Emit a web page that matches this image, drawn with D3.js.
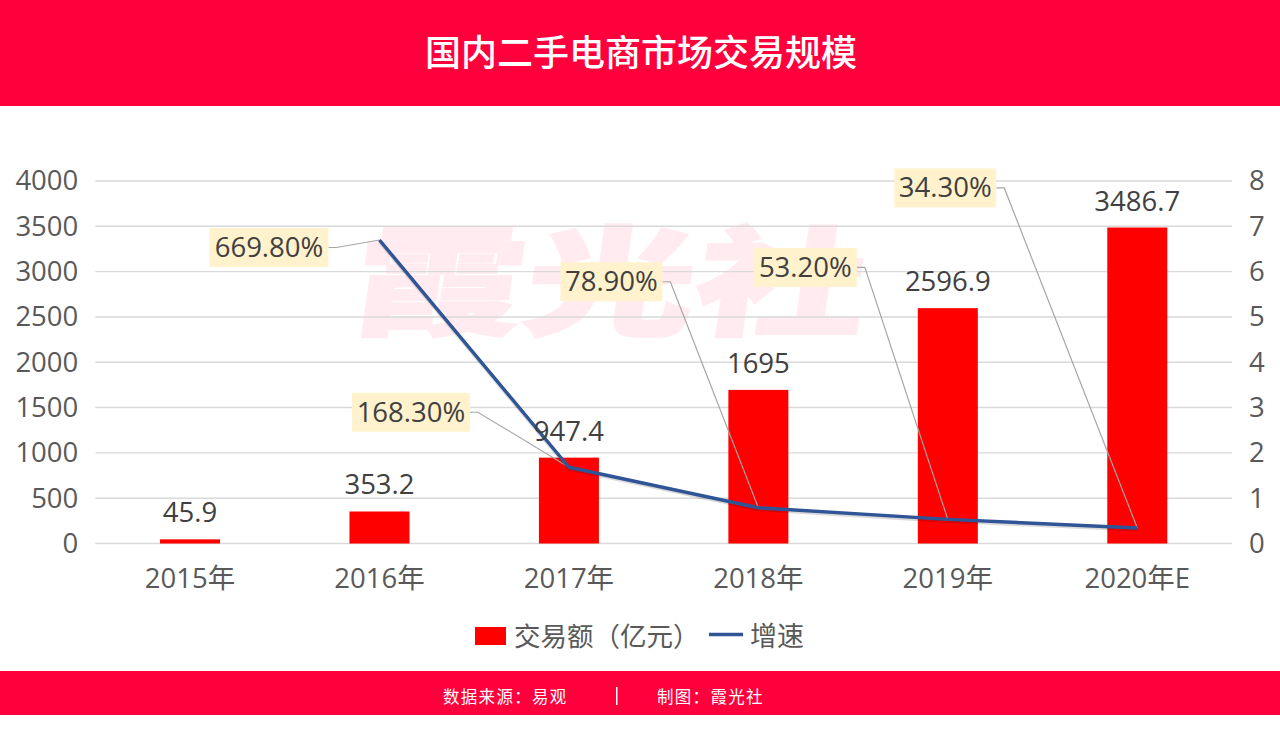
<!DOCTYPE html>
<html>
<head>
<meta charset="utf-8">
<script src="https://cdn.jsdelivr.net/npm/d3@7"></script>
<style>
  html, body { margin: 0; padding: 0; background: #fff; }
  svg { display: block; }
  text { font-family: "Open Sans", "Noto Sans CJK SC", sans-serif; }
  .cjk { font-family: "Noto Sans CJK SC", sans-serif; }
</style>
</head>
<body>
<svg id="chart" width="1280" height="735"></svg>
<script>
var years = ["2015年", "2016年", "2017年", "2018年", "2019年", "2020年E"];
var volume = [45.9, 353.2, 947.4, 1695, 2596.9, 3486.7];
var volumeLabels = ["45.9", "353.2", "947.4", "1695", "2596.9", "3486.7"];
var growth = [null, 6.698, 1.683, 0.789, 0.532, 0.343];
var growthLabels = [null, "669.80%", "168.30%", "78.90%", "53.20%", "34.30%"];
var leftTicks = [0, 500, 1000, 1500, 2000, 2500, 3000, 3500, 4000];
var rightTicks = [0, 1, 2, 3, 4, 5, 6, 7, 8];

// where each callout box sits, relative to its point on the line
var calloutDx = [null, -170, -217, -198, -194, -243];
var calloutDy = [null, 7.5, -55, -226, -252, -340];
var calloutW = [null, 119, 118, 102, 103, 102];

var red = "#ff003c";
var svg = d3.select("#chart");

var x = d3.scaleBand().domain(years).range([95.3, 1232]);
var yL = d3.scaleLinear().domain([0, 4000]).range([543.5, 181]);
var yR = d3.scaleLinear().domain([0, 8]).range([543.5, 181]);
var cx = function (d) { return x(d) + x.bandwidth() / 2; };

// header + footer
svg.append("rect").attr("width", 1280).attr("height", 106).attr("fill", red);
svg.append("rect").attr("y", 671).attr("width", 1280).attr("height", 44).attr("fill", red);
svg.append("text").attr("class", "cjk").attr("x", 641).attr("y", 66)
  .attr("text-anchor", "middle").attr("fill", "#fff")
  .attr("font-size", 36).attr("font-weight", 500)
  .text("国内二手电商市场交易规模");
svg.append("text").attr("class", "cjk").attr("x", 443).attr("y", 703)
  .attr("fill", "#fff").attr("font-size", 16.5).attr("letter-spacing", 1.3)
  .text("数据来源：易观");
svg.append("rect").attr("x", 616).attr("y", 687).attr("width", 1.5).attr("height", 18).attr("fill", "#fff");
svg.append("text").attr("class", "cjk").attr("x", 657).attr("y", 703)
  .attr("fill", "#fff").attr("font-size", 16.5).attr("letter-spacing", 1.3)
  .text("制图：霞光社");

// watermark
svg.append("text").attr("class", "cjk")
  .attr("transform", "translate(349,326) skewX(-8) scale(1.435,1)")
  .attr("fill", "#ffebf0").attr("stroke", "#ffebf0").attr("stroke-width", 2)
  .attr("font-size", 119).attr("font-weight", 900)
  .text("霞光社");

// gridlines
svg.append("g").selectAll("line").data(leftTicks).join("line")
  .attr("x1", 95.3).attr("x2", 1232)
  .attr("y1", function (d) { return yL(d); })
  .attr("y2", function (d) { return yL(d); })
  .attr("stroke", "#d9d9d9").attr("stroke-width", 1.4);

// axes
var axisLeft = svg.append("g").attr("transform", "translate(95.3,0)")
  .call(d3.axisLeft(yL).tickValues(leftTicks).tickFormat(d3.format("d")).tickSize(0).tickPadding(17));
var axisRight = svg.append("g").attr("transform", "translate(1232,0)")
  .call(d3.axisRight(yR).tickValues(rightTicks).tickFormat(d3.format("d")).tickSize(0).tickPadding(17));
var axisBottom = svg.append("g").attr("transform", "translate(0,543.5)")
  .call(d3.axisBottom(x).tickSize(0).tickPadding(25));
[axisLeft, axisRight, axisBottom].forEach(function (a) {
  a.select(".domain").remove();
  a.selectAll("text").attr("fill", "#595959").attr("font-size", 27.5)
    .style("font-family", '"Open Sans", "Noto Sans CJK SC", sans-serif');
});
axisBottom.selectAll("text").attr("font-size", 27.5);

// bars
svg.append("g").selectAll("rect").data(volume).join("rect")
  .attr("x", function (d, i) { return cx(years[i]) - 30; })
  .attr("width", 60)
  .attr("y", function (d) { return yL(d); })
  .attr("height", function (d) { return yL(0) - yL(d); })
  .attr("fill", "#ff0000");

// leaders
var points = growth.map(function (d, i) {
  return d === null ? null : { i: i, px: cx(years[i]), py: yR(d) };
}).filter(Boolean);

svg.append("g").selectAll("path").data(points).join("path")
  .attr("fill", "none").attr("stroke", "#a6a6a6").attr("stroke-width", 1.2)
  .attr("d", function (p) {
    var bx = p.px + calloutDx[p.i] + calloutW[p.i], by = p.py + calloutDy[p.i];
    return "M" + bx + "," + by + "L" + (bx + 8) + "," + by + "L" + p.px + "," + p.py;
  });

// growth line
var line = d3.line()
  .defined(function (d) { return d !== null; })
  .x(function (d, i) { return cx(years[i]); })
  .y(function (d) { return yR(d); });

svg.append("path").datum(growth).attr("d", line)
  .attr("transform", "translate(0,2)")
  .attr("fill", "none").attr("stroke", "#000").attr("stroke-opacity", 0.15).attr("stroke-width", 3);
svg.append("path").datum(growth).attr("d", line)
  .attr("fill", "none").attr("stroke", "#2f5597").attr("stroke-width", 3.4)
  .attr("stroke-linejoin", "round");

// bar labels
svg.append("g").selectAll("text").data(volumeLabels).join("text")
  .attr("x", function (d, i) { return cx(years[i]); })
  .attr("y", function (d, i) { return yL(volume[i]) - 17; })
  .attr("text-anchor", "middle").attr("fill", "#404040").attr("font-size", 27.5)
  .text(function (d) { return d; });

// callout boxes
var callouts = svg.append("g").selectAll("g").data(points).join("g")
  .attr("transform", function (p) {
    return "translate(" + (p.px + calloutDx[p.i]) + "," + (p.py + calloutDy[p.i]) + ")";
  });
callouts.append("rect").attr("y", -19.5).attr("height", 39)
  .attr("width", function (p) { return calloutW[p.i]; })
  .attr("fill", "#fff2cc");
callouts.append("text")
  .attr("x", function (p) { return calloutW[p.i] / 2; }).attr("y", 9.5)
  .attr("text-anchor", "middle").attr("fill", "#404040").attr("font-size", 27.5)
  .text(function (p) { return growthLabels[p.i]; });

// legend
svg.append("rect").attr("x", 475).attr("y", 627).attr("width", 31).attr("height", 18).attr("fill", "#ff0000");
svg.append("text").attr("class", "cjk").attr("x", 514).attr("y", 646)
  .attr("fill", "#595959").attr("font-size", 26.5).text("交易额（亿元）");
svg.append("line").attr("x1", 709).attr("x2", 743).attr("y1", 634.5).attr("y2", 634.5)
  .attr("stroke", "#2f5597").attr("stroke-width", 3.4);
svg.append("text").attr("class", "cjk").attr("x", 750).attr("y", 646)
  .attr("fill", "#595959").attr("font-size", 27).text("增速");
</script>
</body>
</html>
